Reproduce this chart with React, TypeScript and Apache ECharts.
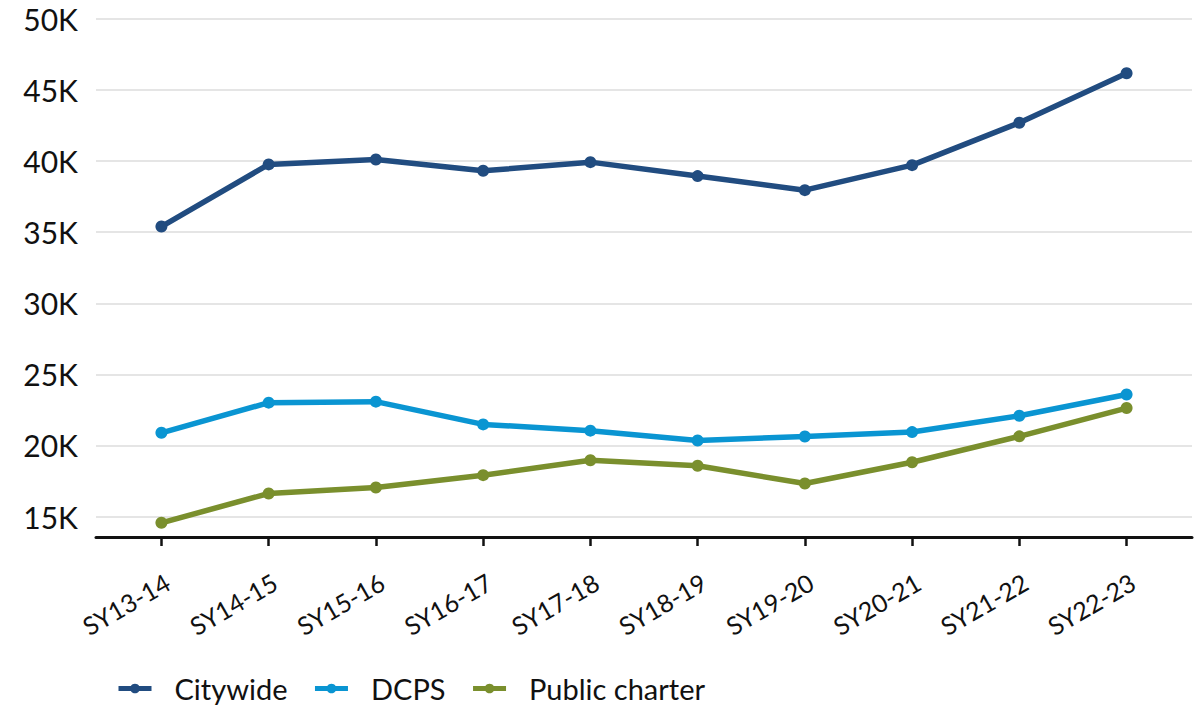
import React, { useEffect, useRef } from "react";
import * as echarts from "echarts";

const categories = ["SY13-14", "SY14-15", "SY15-16", "SY16-17", "SY17-18", "SY18-19", "SY19-20", "SY20-21", "SY21-22", "SY22-23"];
const citywide = [35400, 39770, 40120, 39320, 39930, 38950, 37960, 39720, 42700, 46180];
const dcps = [20890, 23010, 23080, 21480, 21040, 20350, 20630, 20940, 22090, 23580];
const publicCharter = [14560, 16620, 17040, 17910, 18960, 18570, 17320, 18820, 20640, 22630];
const yTicks = [15000, 20000, 25000, 30000, 35000, 40000, 45000, 50000];
const seriesNames = ["Citywide", "DCPS", "Public charter"];
const colors = ["#214C80", "#0A95D2", "#7A8F2D"];

const FONT = "Lato";

export default function App() {
  const ref = useRef<HTMLDivElement>(null);
  useEffect(() => {
    if (!ref.current) return;
    const chart = echarts.init(ref.current, null, { renderer: "svg" });
    const xIdx = categories.map((_, i) => i);
    const mk = (vals: number[]) => categories.map((_, i) => [i, vals[i]]);
    const all = [citywide, dcps, publicCharter];
    chart.setOption({
      animation: false,
      backgroundColor: "#ffffff",
      grid: { left: 96, right: 7, top: 19, bottom: 169, containLabel: false },
      legend: {
        left: 111,
        top: 669,
        itemWidth: 33,
        itemHeight: 12,
        itemGap: 25,
        data: seriesNames,
        lineStyle: { width: 5 },
        textStyle: { fontFamily: FONT, fontSize: 29, lineHeight: 29, color: "#111", padding: [0, 0, 0, 18] },
      },
      xAxis: {
        type: "value",
        min: -0.61,
        max: 9.61,
        splitLine: { show: false },
        axisLine: { show: true, onZero: false, lineStyle: { color: "#111", width: 3 } },
        axisTick: { show: true, customValues: xIdx, length: 9, lineStyle: { color: "#111", width: 2.5 } },
        axisLabel: {
          customValues: xIdx,
          rotate: 30,
          margin: 32,
          verticalAlign: "top",
          fontFamily: FONT,
          fontSize: 25,
          color: "#111",
          formatter: (v: number) => categories[Math.round(v)],
        },
      },
      yAxis: {
        type: "value",
        min: 13560,
        max: 50000,
        axisLine: { show: false },
        axisTick: { show: false, customValues: yTicks },
        splitLine: { show: true, lineStyle: { color: "#dcdcdc", width: 1.5 } },
        axisLabel: {
          customValues: yTicks,
          margin: 18,
          fontFamily: FONT,
          fontSize: 30,
          color: "#111",
          formatter: (v: number) => Math.round(v / 1000) + "K",
        },
      },
      series: seriesNames.map((name, k) => ({
        name,
        type: "line",
        data: mk(all[k]),
        symbol: "circle",
        symbolSize: 12,
        color: colors[k],
        lineStyle: { width: 5.5, color: colors[k] },
        itemStyle: { color: colors[k] },
      })),
    });
    return () => chart.dispose();
  }, []);
  return <div ref={ref} style={{ position: "fixed", left: 0, top: 0, width: 1199, height: 706 }} />;
}
